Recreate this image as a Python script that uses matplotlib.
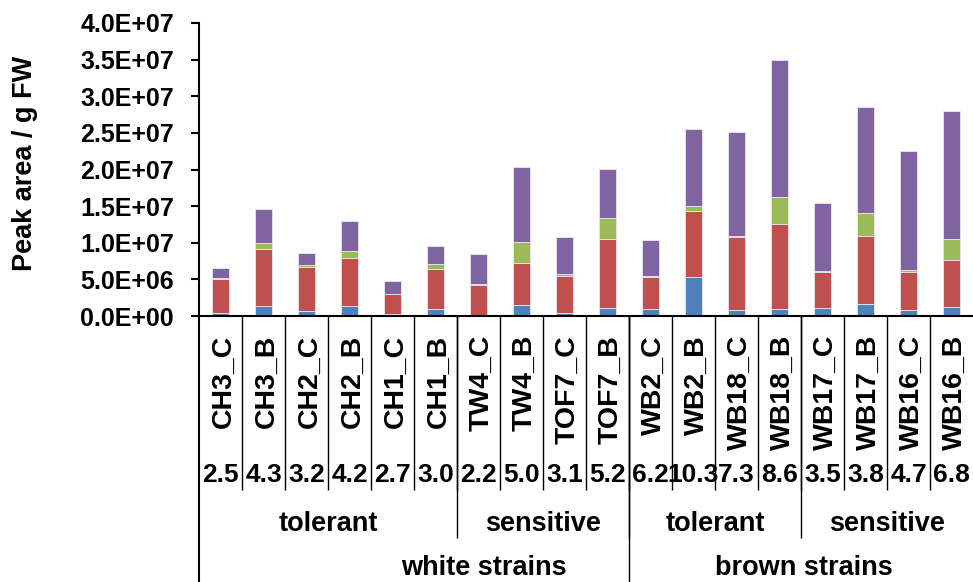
import matplotlib
matplotlib.use("Agg")
import matplotlib.pyplot as plt
import matplotlib.transforms as mtransforms
from matplotlib.ticker import FuncFormatter, MultipleLocator

# ---------------- data ----------------
categories = ["CH3_C", "CH3_B", "CH2_C", "CH2_B", "CH1_C", "CH1_B",
              "TW4_C", "TW4_B", "TOF7_C", "TOF7_B",
              "WB2_C", "WB2_B", "WB18_C", "WB18_B",
              "WB17_C", "WB17_B", "WB16_C", "WB16_B"]

# stacked segments (units of 1e6 peak area / g FW)
series_blue = [0.35, 1.37, 0.72, 1.37, 0.30, 1.00, 0.08, 1.50, 0.41, 1.14,
               0.91, 5.28, 0.78, 1.00, 1.05, 1.59, 0.82, 1.23]
series_red = [4.75, 7.73, 5.97, 6.50, 2.66, 5.37, 4.20, 5.78, 5.09, 9.33,
              4.46, 9.10, 9.96, 11.56, 4.91, 9.38, 5.14, 6.46]
series_green = [0.05, 0.87, 0.27, 0.96, 0.03, 0.77, 0.13, 2.82, 0.23, 2.91,
                0.05, 0.64, 0.18, 3.69, 0.23, 3.13, 0.36, 2.78]
series_purple = [1.45, 4.59, 1.59, 4.14, 1.79, 2.42, 4.05, 10.30, 5.01, 6.69,
                 4.96, 10.55, 14.15, 18.70, 9.19, 14.39, 16.21, 17.52]

ratio_labels = ["2.5", "4.3", "3.2", "4.2", "2.7", "3.0", "2.2", "5.0", "3.1",
                "5.2", "6.2", "10.3", "7.3", "8.6", "3.5", "3.8", "4.7", "6.8"]

level2_groups = [("tolerant", 0, 5), ("sensitive", 6, 9),
                 ("tolerant", 10, 13), ("sensitive", 14, 17)]
level3_groups = [("white strains", 0, 9), ("brown strains", 10, 17)]

colors = ["#4F81BD", "#C0504D", "#9BBB59", "#8064A2"]
scale = 1e6

# ---------------- figure ----------------
W, H = 973, 582
fig = plt.figure(figsize=(W / 100, H / 100), dpi=100)
FONT = "Liberation Sans"
plt.rcParams["font.family"] = [FONT, "DejaVu Sans"]
plt.rcParams["font.weight"] = "bold"

ax_left, ax_right, ax_top, ax_bottom = 199, 973, 23, 316
ax = fig.add_axes([ax_left / W, 1 - ax_bottom / H,
                   (ax_right - ax_left) / W, (ax_bottom - ax_top) / H])

x = list(range(len(categories)))
bottom = [0.0] * len(categories)
for vals, col in zip([series_blue, series_red, series_green, series_purple], colors):
    v = [a * scale for a in vals]
    ax.bar(x, v, width=0.4, bottom=bottom, color=col,
           edgecolor="#ece6f2", linewidth=0.6, zorder=2)
    bottom = [b + a for b, a in zip(bottom, v)]

ax.set_xlim(-0.5, len(categories) - 0.5)
ax.set_ylim(0, 4e7)
ax.yaxis.set_major_locator(MultipleLocator(5e6))
ax.yaxis.set_major_formatter(FuncFormatter(lambda v, p: "{:.1E}".format(v)))
ax.set_xticks([])
for s in ["top", "right"]:
    ax.spines[s].set_visible(False)
for s in ["left", "bottom"]:
    ax.spines[s].set_linewidth(1.5)
    ax.spines[s].set_color("black")
ax.tick_params(axis="y", direction="out", length=5.5, width=1.5,
               pad=12.5, labelsize=18)
for lab in ax.get_yticklabels():
    lab.set_fontweight("bold")

fig.text(25 / W, 1 - 163 / H, "Peak area / g FW", rotation=90,
         ha="center", va="center", fontsize=19.5, fontweight="bold")

# ---------------- category table below axis ----------------
trans = mtransforms.blended_transform_factory(ax.transData, fig.transFigure)
fy = lambda px: 1 - px / H

def vline(xd, y0, y1, lw=1.0):
    ax.plot([xd, xd], [fy(y0), fy(y1)], color="black", lw=lw,
            transform=trans, clip_on=False, solid_capstyle="butt")

n = len(categories)
# left boundary continues to the bottom
vline(-0.5, ax_bottom, H + 2, lw=1.5)
for i in range(1, n):
    vline(i - 0.5, ax_bottom, 490)
for name, a, b in level2_groups:
    if a > 0:
        vline(a - 0.5, ax_bottom, 538)
for name, a, b in level3_groups:
    if a > 0:
        vline(a - 0.5, ax_bottom, H + 2)

for i, c in enumerate(categories):
    ax.text(i + 0.07, fy(335), c, transform=trans, rotation=90,
            ha="center", va="top", fontsize=20.5, fontweight="bold")
    ax.text(i, fy(482), ratio_labels[i], transform=trans,
            ha="center", va="baseline", fontsize=19, fontweight="bold")

for name, a, b in level2_groups:
    ax.text((a + b) / 2, fy(531), name, transform=trans,
            ha="center", va="baseline", fontsize=19.5, fontweight="bold")

level3_shift = [1.63, 0.07]
for (name, a, b), sh in zip(level3_groups, level3_shift):
    ax.text((a + b) / 2 + sh, fy(575), name, transform=trans,
            ha="center", va="baseline", fontsize=19.5, fontweight="bold")

fig.savefig("out.png", dpi=100)
